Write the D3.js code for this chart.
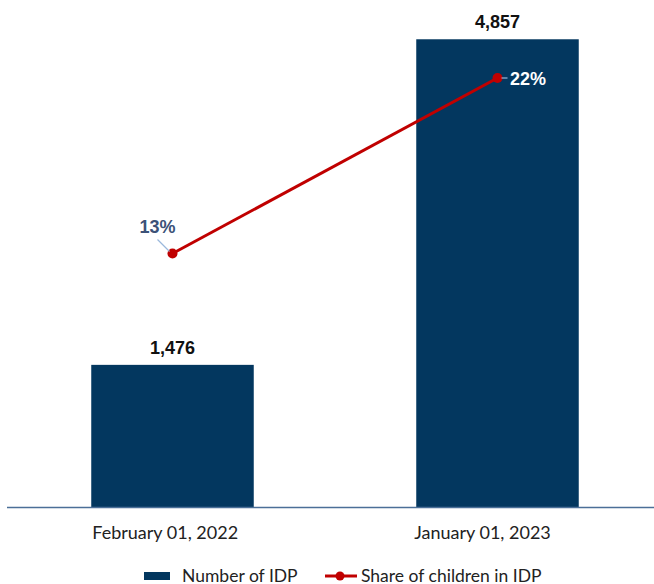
<!DOCTYPE html>
<html>
<head>
<meta charset="utf-8">
<script src="https://cdn.jsdelivr.net/npm/d3@7"></script>
<style>
  body { margin: 0; background: #fff; }
  svg { display: block; }
</style>
</head>
<body>
<svg></svg>
<script>
// Data
const dates = ["February 01, 2022", "January 01, 2023"];
const idpCount = [1476, 4857];
const childShare = [13, 22];

const width = 654, height = 584;
const baseY = 507;
const labelFont = "Lato, 'Open Sans', sans-serif";
const numFont = "Arial, 'Liberation Sans', sans-serif";

const svg = d3.select("svg")
    .attr("width", width)
    .attr("height", height);

// Scales
const x = d3.scaleBand()
    .domain(dates)
    .range([10, 660])
    .paddingInner(0.5)
    .paddingOuter(0.25);

const y = d3.scaleLinear()
    .domain([0, 5000])
    .range([baseY, 25.5]);

const y2 = d3.scaleLinear()
    .domain([0, 25])
    .range([baseY, 19.5]);

// Bars
svg.selectAll("rect.bar")
    .data(idpCount)
  .enter().append("rect")
    .attr("class", "bar")
    .attr("x", (d, i) => x(dates[i]))
    .attr("y", d => y(d))
    .attr("width", x.bandwidth())
    .attr("height", d => baseY - y(d))
    .attr("fill", "#03375f");

// Bar labels
svg.selectAll("text.barlab")
    .data(idpCount)
  .enter().append("text")
    .attr("class", "barlab")
    .attr("x", (d, i) => x(dates[i]) + x.bandwidth() / 2)
    .attr("y", d => y(d) - 11)
    .attr("text-anchor", "middle")
    .style("font-family", numFont)
    .style("font-weight", "bold")
    .style("font-size", "18px")
    .style("fill", "#111")
    .text(d => d3.format(",")(d));

// Axis line
svg.append("line")
    .attr("x1", 7).attr("x2", width)
    .attr("y1", baseY + 0.5).attr("y2", baseY + 0.5)
    .attr("stroke", "#4b6f98")
    .attr("stroke-width", 1.5);

// Category labels
svg.selectAll("text.cat")
    .data(dates)
  .enter().append("text")
    .attr("class", "cat")
    .attr("x", (d, i) => x(d) + (i ? -2 : 1))
    .attr("y", 539)
    .style("font-family", labelFont)
    .style("font-size", "18px")
    .style("fill", "#222")
    .text(d => d);

// Line series
const cx = i => x(dates[i]) + x.bandwidth() / 2;
const line = d3.line()
    .x((d, i) => cx(i))
    .y(d => y2(d));

svg.append("path")
    .datum(childShare)
    .attr("fill", "none")
    .attr("stroke", "#c00000")
    .attr("stroke-width", 3)
    .attr("d", line);

svg.selectAll("circle.pt")
    .data(childShare)
  .enter().append("circle")
    .attr("class", "pt")
    .attr("cx", (d, i) => cx(i))
    .attr("cy", d => y2(d))
    .attr("r", 5)
    .attr("fill", "#c00000");

// Leader line for 13%
svg.append("line")
    .attr("x1", cx(0) - 15).attr("y1", y2(childShare[0]) - 14)
    .attr("x2", cx(0) - 3).attr("y2", y2(childShare[0]) - 2)
    .attr("stroke", "#9bb8dc")
    .attr("stroke-width", 1.2);

svg.append("text")
    .attr("x", cx(0) - 15)
    .attr("y", y2(childShare[0]) - 21)
    .attr("text-anchor", "middle")
    .style("font-family", numFont)
    .style("font-weight", "bold")
    .style("font-size", "18px")
    .style("fill", "#3c5278")
    .text(childShare[0] + "%");

// Small tick then 22% label
svg.append("line")
    .attr("x1", cx(1) + 4).attr("x2", cx(1) + 10)
    .attr("y1", y2(childShare[1])).attr("y2", y2(childShare[1]))
    .attr("stroke", "#9bb8dc")
    .attr("stroke-width", 1.2);

svg.append("text")
    .attr("x", cx(1) + 12.5)
    .attr("y", y2(childShare[1]) + 7)
    .style("font-family", numFont)
    .style("font-weight", "bold")
    .style("font-size", "18px")
    .style("fill", "#fff")
    .text(childShare[1] + "%");

// Legend
const lg = svg.append("g").attr("transform", "translate(0,576)");
lg.append("rect")
    .attr("x", 144).attr("y", -4)
    .attr("width", 26).attr("height", 8)
    .attr("fill", "#03375f");
lg.append("text")
    .attr("x", 182).attr("y", 5.5)
    .style("font-family", labelFont)
    .style("font-size", "17.5px")
    .style("fill", "#222")
    .text("Number of IDP");
lg.append("line")
    .attr("x1", 325).attr("x2", 357)
    .attr("y1", 0).attr("y2", 0)
    .attr("stroke", "#c00000")
    .attr("stroke-width", 3);
lg.append("circle")
    .attr("cx", 340).attr("cy", 0)
    .attr("r", 4.5)
    .attr("fill", "#c00000");
lg.append("text")
    .attr("x", 361).attr("y", 5.5)
    .style("font-family", labelFont)
    .style("font-size", "17.5px")
    .style("fill", "#222")
    .text("Share of children in IDP");
</script>
</body>
</html>
